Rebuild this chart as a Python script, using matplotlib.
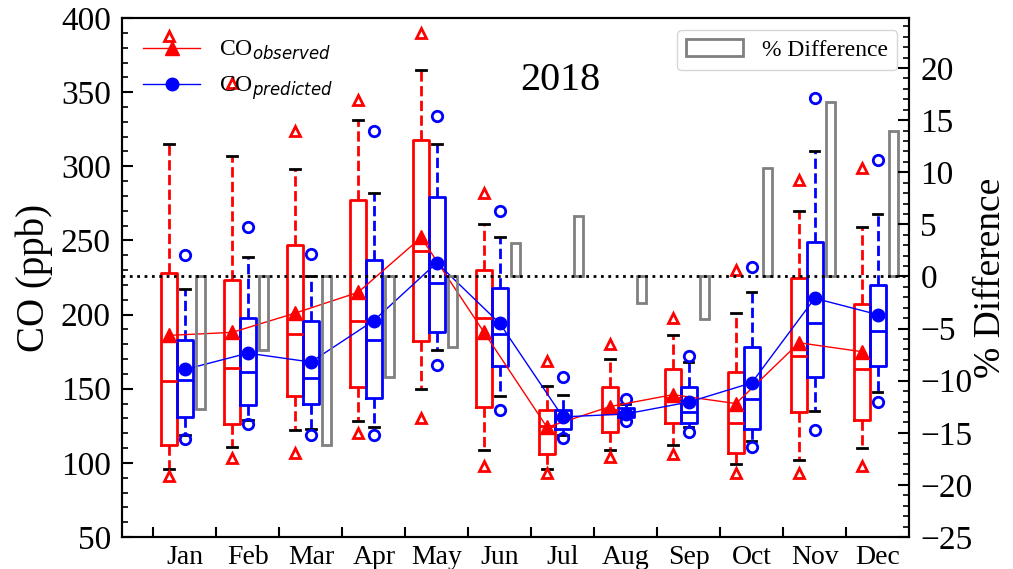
import numpy as np
import matplotlib
matplotlib.use("Agg")
from matplotlib import pyplot as plt
from matplotlib.ticker import MultipleLocator, FixedLocator

plt.rcParams['font.family'] = 'Liberation Serif'
plt.rcParams['mathtext.fontset'] = 'dejavusans'

months = ["Jan", "Feb", "Mar", "Apr", "May", "Jun",
          "Jul", "Aug", "Sep", "Oct", "Nov", "Dec"]

# observed CO (ppb)
obs_mean = [186, 188, 201, 215, 252, 188, 124, 138, 146, 140, 181, 175]
obs_med = [155, 164, 187, 196, 243, 198, 125, 136, 144, 127, 172, 163]
obs_q1 = [112, 126, 145, 151, 182, 138, 106, 121, 127, 107, 134, 129]
obs_q3 = [228, 223, 247, 277, 318, 230, 136, 151, 163, 161, 225, 207]
obs_lo = [96, 111, 122, 128, 150, 109, 96, 109, 112, 99, 102, 110]
obs_hi = [315, 307, 298, 331, 365, 261, 152, 170, 186, 201, 270, 259]
obs_min = [91, 103, 107, 120, 130, 98, 93, 104, 106, 93, 93, 98]
obs_max = [388, 356, 324, 345, 390, 282, 169, 180, 198, 230, 291, 299]

# predicted CO (ppb)
pred_mean = [163, 174, 168, 196, 235, 194, 131, 133, 141, 154, 211, 200]
pred_med = [156, 161, 157, 183, 221, 187, 130, 134, 134, 143, 194, 189]
pred_q1 = [131, 139, 140, 144, 188, 165, 123, 131, 127, 123, 158, 165]
pred_q3 = [183, 198, 196, 237, 279, 218, 136, 137, 151, 178, 249, 220]
pred_lo = [119, 129, 123, 124, 176, 145, 119, 130, 124, 115, 135, 148]
pred_hi = [217, 239, 226, 282, 315, 252, 146, 140, 168, 215, 310, 268]
pred_min = [116, 126, 119, 119, 166, 136, 117, 128, 121, 111, 122, 141]
pred_max = [240, 259, 241, 324, 334, 270, 158, 143, 172, 232, 346, 304]

# % difference between predicted and observed means
pct_diff = [-12.7, -7.1, -16.2, -9.6, -6.8, 3.2, 5.8, -2.5, -4.1, 10.4, 16.7, 14.0]

x = np.arange(len(months))


def make_stats(med, q1, q3, lo, hi, mn, mx):
    stats = []
    for i in range(len(med)):
        stats.append(dict(med=med[i], q1=q1[i], q3=q3[i],
                          whislo=lo[i], whishi=hi[i],
                          fliers=[mn[i], mx[i]]))
    return stats


fig = plt.figure(figsize=(10.13, 5.69), dpi=100)
ax = fig.add_axes([0.1204, 0.0562, 0.7771, 0.9121])
ax2 = ax.twinx()

for stats, pos, c, mk, ms in [
        (make_stats(obs_med, obs_q1, obs_q3, obs_lo, obs_hi, obs_min, obs_max),
         x + 0.25, 'red', '^', 7),
        (make_stats(pred_med, pred_q1, pred_q3, pred_lo, pred_hi, pred_min, pred_max),
         x + 0.5, 'blue', 'o', 7.5)]:
    ax.bxp(stats, positions=pos, widths=0.25, capwidths=0.15,
           manage_ticks=False, showfliers=True,
           boxprops=dict(color=c, lw=2),
           whiskerprops=dict(color=c, lw=2, ls='--'),
           capprops=dict(color='black', lw=2),
           medianprops=dict(color=c, lw=2),
           flierprops=dict(marker=mk, markerfacecolor='none',
                           markeredgecolor=c, markersize=ms, mew=2))

l1, = ax.plot(x + 0.25, obs_mean, color='red', lw=1, marker='^', ms=10,
              label='CO$_{observed}$')
l2, = ax.plot(x + 0.5, pred_mean, color='blue', lw=1, marker='o', ms=9,
              label='CO$_{predicted}$')

ax.set_xlim(-0.5, 12.0)
ax.set_ylim(50, 400)
ax.yaxis.set_major_locator(MultipleLocator(50))
ax.yaxis.set_minor_locator(MultipleLocator(10))
ax.set_xticks(x)
ax.set_xticklabels([])
ax.xaxis.set_minor_locator(FixedLocator(x + 0.5))
ax.set_xticklabels(months, minor=True)
ax.tick_params(axis='x', which='major', direction='in', length=7, width=1.5)
ax.tick_params(axis='x', which='minor', length=0, pad=6, labelsize=20)
ax.tick_params(axis='y', which='major', direction='in', length=8, width=1.5,
               pad=8, labelsize=24)
ax.tick_params(axis='y', which='minor', direction='in', length=4, width=1.2)
ax.set_ylabel('CO (ppb)', fontsize=28, labelpad=6)

ax2.bar(x + 0.75, pct_diff, width=0.14, fill=False, edgecolor='gray', lw=2,
        label='% Difference')
ax2.axhline(0, color='black', ls=':', lw=2)
ax2.set_ylim(-25, 24.8)
ax2.set_yticks(np.arange(-25, 21, 5))
ax2.yaxis.set_minor_locator(MultipleLocator(1))
ax2.tick_params(axis='y', which='major', direction='in', length=8, width=1.5,
                pad=8, labelsize=24)
ax2.tick_params(axis='y', which='minor', direction='in', length=4, width=1.2)
ax2.set_ylabel('% Difference', fontsize=27, labelpad=1)

for a in (ax, ax2):
    for s in a.spines.values():
        s.set_linewidth(1.5)

ax.legend(handles=[l1, l2], loc='upper left', frameon=False, fontsize=17,
          handlelength=2.4, bbox_to_anchor=(0.0, 1.0))
ax2.legend(loc='upper right', fontsize=17, handlelength=2.4)
ax.text(0.557, 0.879, '2018', transform=ax.transAxes, ha='center',
        va='center', fontsize=29)

fig.savefig('out.png', dpi=100)
